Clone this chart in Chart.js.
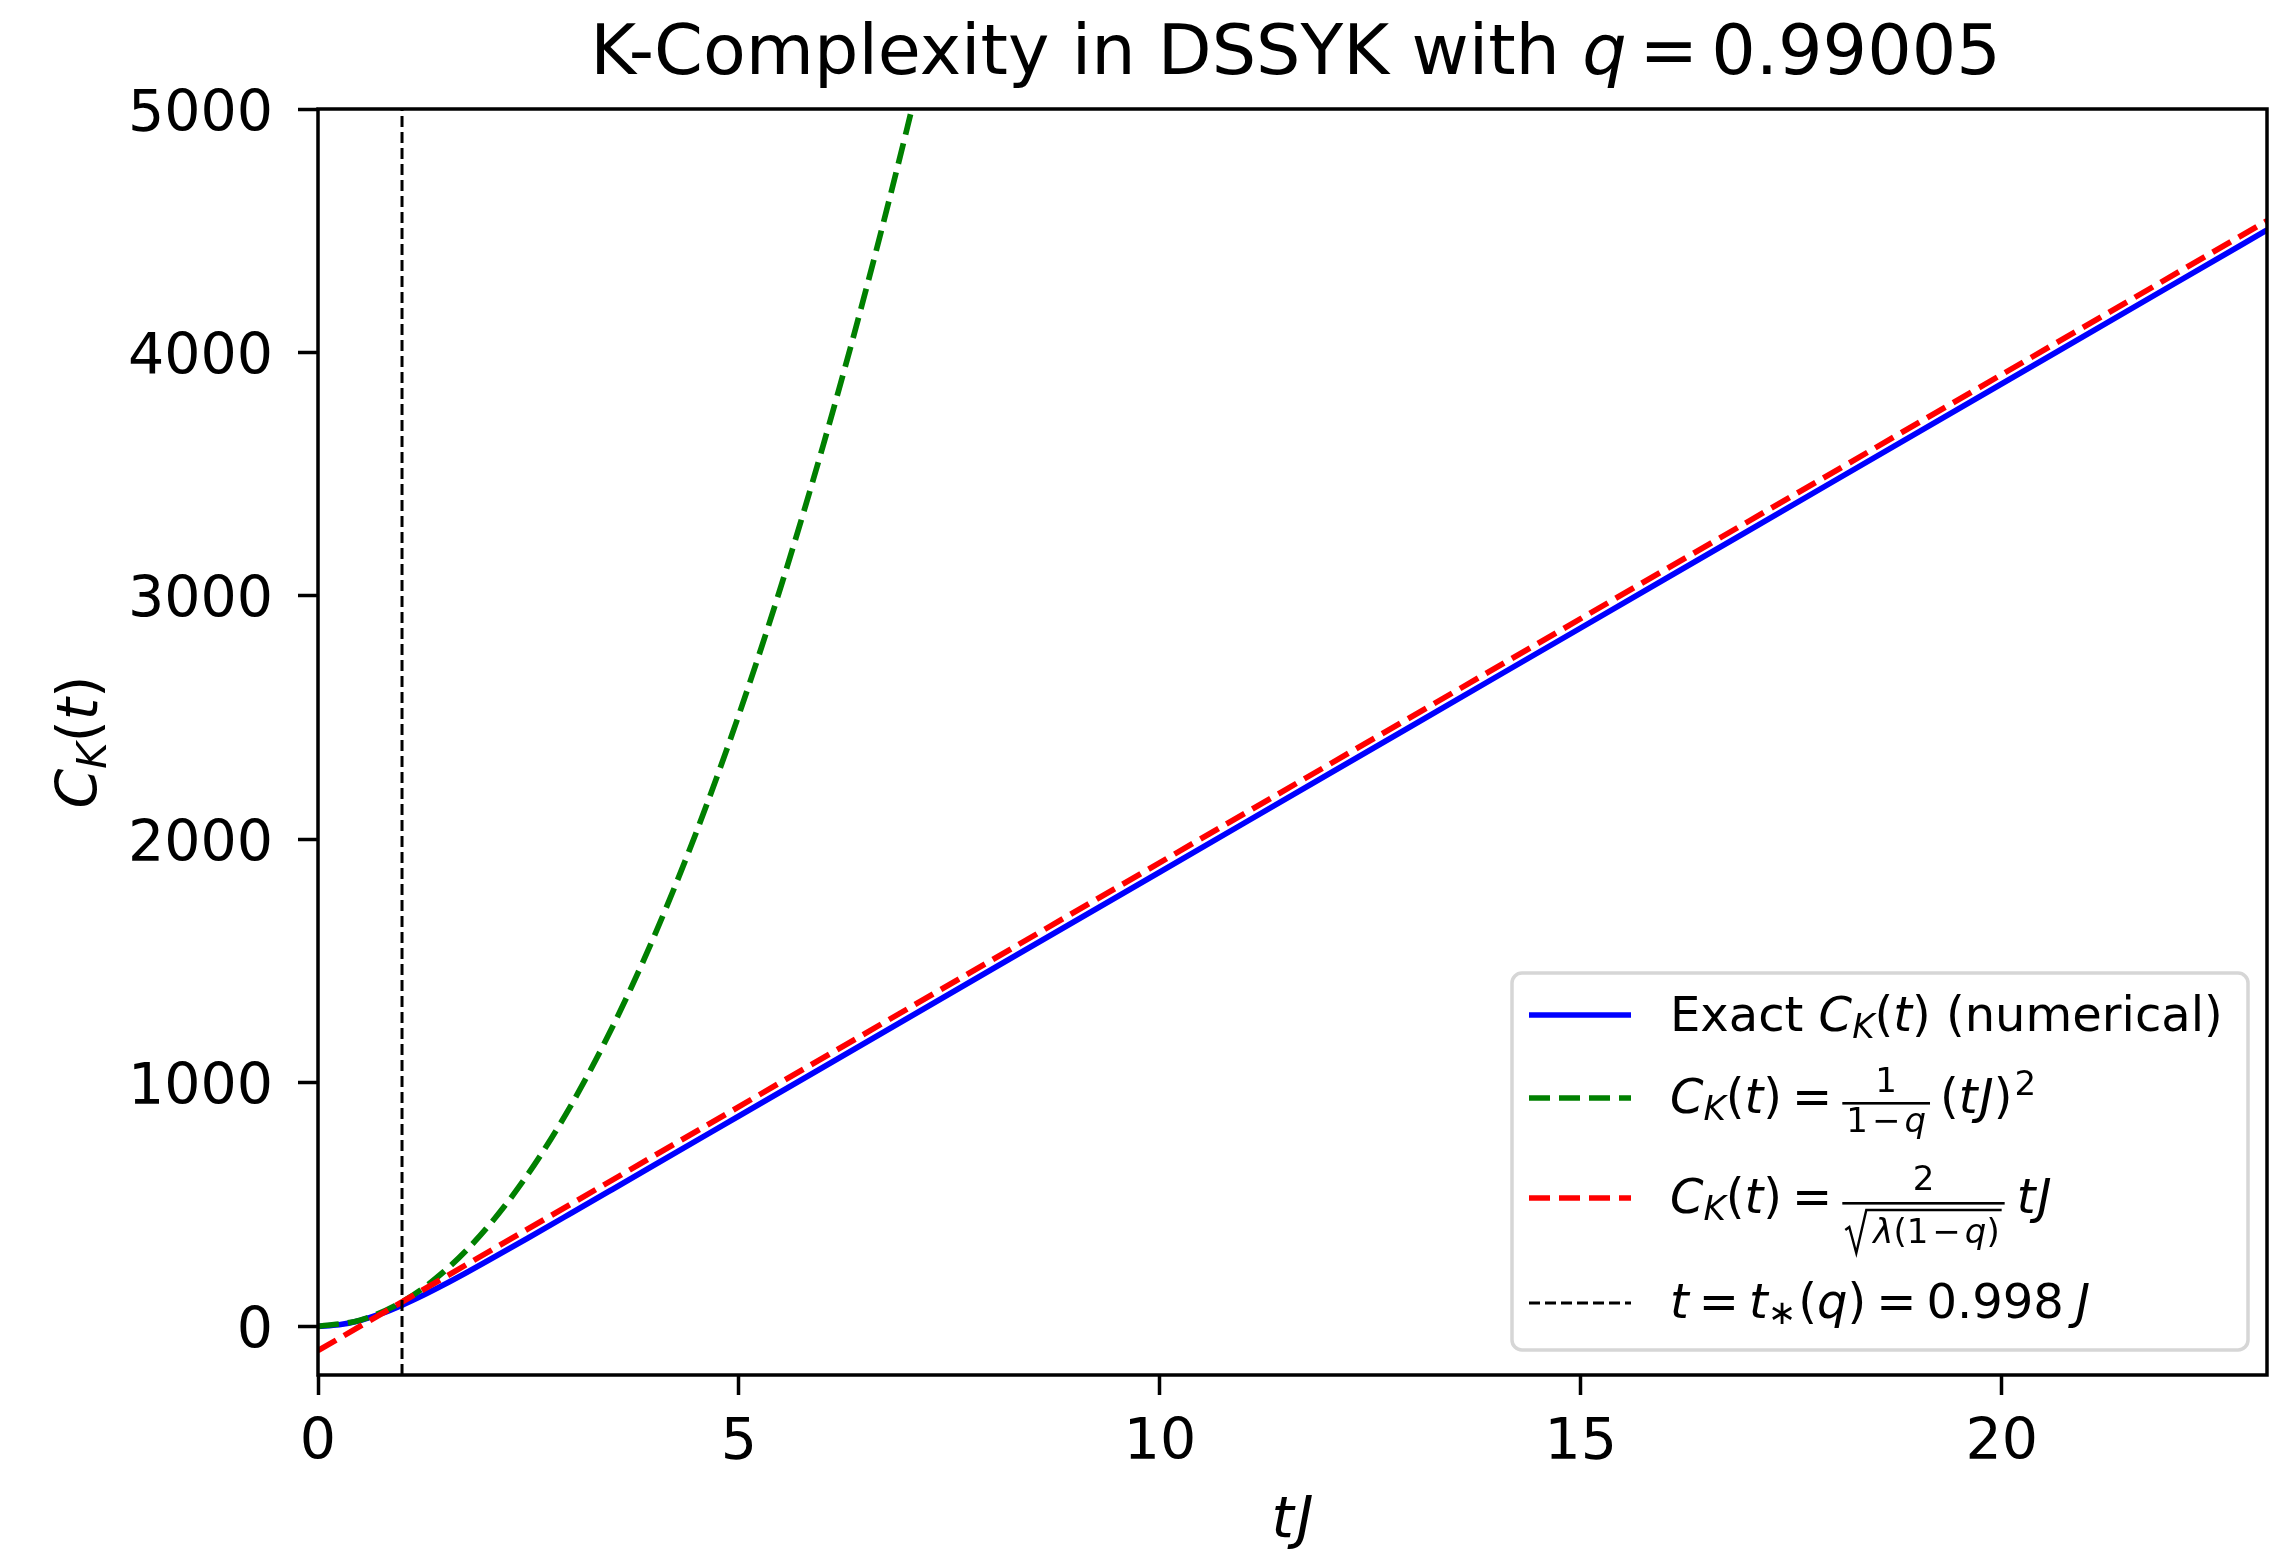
<!DOCTYPE html>
<html><head><meta charset="utf-8">
<script src="https://cdn.jsdelivr.net/npm/chart.js@4.4.1/dist/chart.umd.min.js"></script>
<style>html,body{margin:0;padding:0;background:#fff}#wrap{width:2291px;height:1550px;position:relative}</style>
</head><body><div id="wrap"><canvas id="c" width="2291" height="1550"></canvas></div>
<script>
// ---- data ----
const tExact = [0, 0.25, 0.5, 0.75, 1, 1.25, 1.5, 1.75, 2, 2.5, 3, 3.5, 4, 5, 6, 8, 10, 12, 14, 16, 18, 20, 22, 23.15];
const cExact = [0, 6.2, 24.2, 51.8, 87.3, 127.7, 171.8, 218.1, 266.0, 364.0, 463.4, 563.3, 663.4, 863.9, 1064.4, 1465.4, 1866.4, 2267.4, 2668.4, 3069.4, 3470.4, 3871.4, 4272.4, 4503.0];
const tQuad = [0, 0.5, 1, 1.5, 2, 2.5, 3, 3.5, 4, 4.5, 5, 5.5, 6, 6.5, 7, 7.5];
const cQuad = [0, 25.1, 100.5, 226.1, 402.0, 628.1, 904.5, 1231.1, 1608.0, 2035.1, 2512.6, 3040.2, 3618.1, 4246.1, 4924.6, 5653.1];
const tLin = [0, 23.15];
const cLin = [-100, 4541];
const tStar = 0.998;
const xTicks = [0, 5, 10, 15, 20];
const yTicks = [0, 1000, 2000, 3000, 4000, 5000];
const xRange = [0, 23.15];
const yRange = [-200, 5000];

const FF = "'DejaVu Sans'";
function fnt(sz, it) { return (it ? 'italic ' : '') + sz + 'px ' + FF; }
function runsWidth(ctx, parts) {
  let w = 0;
  for (const p of parts) { w += (p.dx || 0); ctx.font = fnt(p.sz, p.it); w += ctx.measureText(p.t).width; }
  return w;
}
function drawRuns(ctx, x, y, parts) {
  for (const p of parts) {
    x += (p.dx || 0);
    ctx.font = fnt(p.sz, p.it);
    ctx.fillText(p.t, x, y + (p.dy || 0));
    x += ctx.measureText(p.t).width;
  }
  return x;
}
const M = 48, S = 34;
function CK(sz, ssz) {
  return [{t: 'C', it: 1, sz: sz}, {t: 'K', it: 1, sz: ssz, dy: Math.round(sz * 0.15)}, {t: '(', sz: sz}, {t: 't', it: 1, sz: sz}, {t: ')', sz: sz}];
}

const decor = {
  id: 'decor',
  afterDraw(chart) {
    const ctx = chart.ctx, a = chart.chartArea;
    ctx.save();
    // spines
    ctx.strokeStyle = '#000'; ctx.lineWidth = 3.5; ctx.setLineDash([]);
    ctx.strokeRect(a.left, a.top, a.right - a.left, a.bottom - a.top);
    ctx.fillStyle = '#000';
    // y tick labels (placed with the library's y scale)
    const ys = chart.scales.y;
    ctx.font = fnt(57, 0); ctx.textAlign = 'right'; ctx.textBaseline = 'alphabetic';
    for (const v of yTicks) ctx.fillText(String(v), a.left - 45, ys.getPixelForValue(v) + 21.5);
    ctx.textAlign = 'left';
    // title
    const title = [{t: 'K-Complexity in DSSYK with ', sz: 70}, {t: 'q', it: 1, sz: 70}, {t: '=', sz: 70, dx: 13}, {t: '0.99005', sz: 70, dx: 13}];
    const tw = runsWidth(ctx, title);
    drawRuns(ctx, (a.left + a.right) / 2 - tw / 2 + 3, 74, title);
    // x label
    const xl = [{t: 't', it: 1, sz: 57}, {t: 'J', it: 1, sz: 57, dx: 3}];
    const xw = runsWidth(ctx, xl);
    drawRuns(ctx, (a.left + a.right) / 2 - xw / 2, 1537, xl);
    // y label
    ctx.save();
    ctx.translate(97, (a.top + a.bottom) / 2);
    ctx.rotate(-Math.PI / 2);
    const yl = CK(57, 40);
    const yw = runsWidth(ctx, yl);
    drawRuns(ctx, -yw / 2, 0, yl);
    ctx.restore();

    // legend frame
    ctx.beginPath();
    ctx.roundRect(1512, 973, 736, 377, 10);
    ctx.fillStyle = 'rgba(255,255,255,0.8)'; ctx.fill();
    ctx.strokeStyle = '#d6d6d6'; ctx.lineWidth = 3.5; ctx.stroke();
    // legend handles
    const rows = [
      {y: 1015, c: '#0000ff', w: 5.7, d: []},
      {y: 1098, c: '#008000', w: 5.7, d: [21, 9]},
      {y: 1198, c: '#ff0000', w: 5.7, d: [21, 9]},
      {y: 1303, c: '#000000', w: 3, d: [11, 5]}
    ];
    for (const r of rows) {
      ctx.beginPath(); ctx.strokeStyle = r.c; ctx.lineWidth = r.w; ctx.setLineDash(r.d);
      ctx.moveTo(1529, r.y); ctx.lineTo(1631, r.y); ctx.stroke();
    }
    ctx.setLineDash([]);
    ctx.fillStyle = '#000'; ctx.strokeStyle = '#000';
    const X0 = 1670;
    // row 1
    drawRuns(ctx, X0, 1031, [{t: 'Exact ', sz: M}].concat(CK(M, S), [{t: ' (numerical)', sz: M}]));
    // row 2
    let x = drawRuns(ctx, X0, 1113, CK(M, S).concat([{t: '=', sz: M, dx: 10}]));
    x += 10;
    {
      const num = [{t: '1', sz: S}];
      const den = [{t: '1', sz: S}, {t: '\u2212', sz: S, dx: 4}, {t: 'q', it: 1, sz: S, dx: 4}];
      const nw = runsWidth(ctx, num), dw = runsWidth(ctx, den);
      const W = Math.max(nw, dw) + 8;
      ctx.fillRect(x, 1102, W, 2.6);
      drawRuns(ctx, x + (W - nw) / 2, 1092, num);
      drawRuns(ctx, x + (W - dw) / 2, 1132, den);
      x += W + 10;
    }
    x = drawRuns(ctx, x, 1113, [{t: '(', sz: M}, {t: 't', it: 1, sz: M}, {t: 'J', it: 1, sz: M, dx: 2}, {t: ')', sz: M}]);
    drawRuns(ctx, x + 2, 1095, [{t: '2', sz: S}]);
    // row 3
    x = drawRuns(ctx, X0, 1213, CK(M, S).concat([{t: '=', sz: M, dx: 10}]));
    x += 10;
    {
      const num = [{t: '2', sz: S}];
      const den = [{t: '\u03bb', it: 1, sz: S}, {t: '(', sz: S}, {t: '1', sz: S}, {t: '\u2212', sz: S, dx: 4}, {t: 'q', it: 1, sz: S, dx: 4}, {t: ')', sz: S}];
      const nw = runsWidth(ctx, num), dw = runsWidth(ctx, den);
      const rad = 26;
      const W = dw + rad + 10;
      ctx.fillRect(x, 1202, W, 2.6);
      drawRuns(ctx, x + (W - nw) / 2, 1190, num);
      const dx0 = x + 3 + rad;
      // radical sign
      ctx.lineWidth = 2.4; ctx.lineJoin = 'miter';
      ctx.beginPath();
      ctx.moveTo(x + 3, 1230); ctx.lineTo(x + 7, 1227); ctx.lineTo(x + 14, 1253); ctx.lineTo(x + 24, 1210); ctx.lineTo(dx0 + dw + 4, 1210);
      ctx.stroke();
      drawRuns(ctx, dx0 + 2, 1243, den);
      x += W + 12;
    }
    drawRuns(ctx, x, 1213, [{t: 't', it: 1, sz: M}, {t: 'J', it: 1, sz: M, dx: 2}]);
    // row 4
    drawRuns(ctx, X0, 1318, [
      {t: 't', it: 1, sz: M}, {t: '=', sz: M, dx: 10}, {t: 't', it: 1, sz: M, dx: 10},
      {t: '\u2217', sz: S, dy: 6}, {t: '(', sz: M, dx: 2}, {t: 'q', it: 1, sz: M}, {t: ')', sz: M},
      {t: '=', sz: M, dx: 10}, {t: '0.998', sz: M, dx: 10}, {t: 'J', it: 1, sz: M, dx: 12}
    ]);
    ctx.restore();
  }
};

function pts(xs, ys) { return xs.map((v, i) => ({x: v, y: ys[i]})); }

new Chart(document.getElementById('c'), {
  type: 'scatter',
  data: {
    datasets: [
      {label: 'Exact', data: pts(tExact, cExact), showLine: true, borderColor: '#0000ff', borderWidth: 5.7, pointRadius: 0, cubicInterpolationMode: 'monotone', order: 4},
      {label: 'quad', data: pts(tQuad, cQuad), showLine: true, borderColor: '#008000', borderWidth: 5.7, borderDash: [21, 9], pointRadius: 0, cubicInterpolationMode: 'monotone', order: 3},
      {label: 'lin', data: pts(tLin, cLin), showLine: true, borderColor: '#ff0000', borderWidth: 5.7, borderDash: [21, 9], pointRadius: 0, order: 2},
      {label: 'tstar', data: pts([tStar, tStar], yRange), showLine: true, borderColor: '#000000', borderWidth: 3, borderDash: [11, 5], pointRadius: 0, order: 1}
    ]
  },
  options: {
    responsive: false, animation: false, devicePixelRatio: 1,
    layout: {padding: {top: 109, right: 24, left: 0, bottom: 0}},
    plugins: {legend: {display: false}, tooltip: {enabled: false}, title: {display: false}},
    scales: {
      x: {
        type: 'linear', min: xRange[0], max: xRange[1],
        afterFit(s) { s.height = 175; },
        afterBuildTicks(s) { s.ticks = xTicks.map(v => ({value: v})); },
        grid: {display: true, drawOnChartArea: false, drawTicks: true, tickLength: 20, tickWidth: 3.5, tickColor: '#000'},
        border: {display: false},
        ticks: {color: '#000', font: {family: 'DejaVu Sans', size: 57}, padding: 15, maxRotation: 0, autoSkip: false, callback: v => String(v)}
      },
      y: {
        type: 'linear', min: yRange[0], max: yRange[1],
        afterFit(s) { s.width = 318; },
        afterBuildTicks(s) { s.ticks = yTicks.map(v => ({value: v})); },
        grid: {display: true, drawOnChartArea: false, drawTicks: true, tickLength: 20, tickWidth: 3.5, tickColor: '#000'},
        border: {display: false},
        ticks: {display: false, autoSkip: false}
      }
    }
  },
  plugins: [decor]
});
</script>
</body></html>
